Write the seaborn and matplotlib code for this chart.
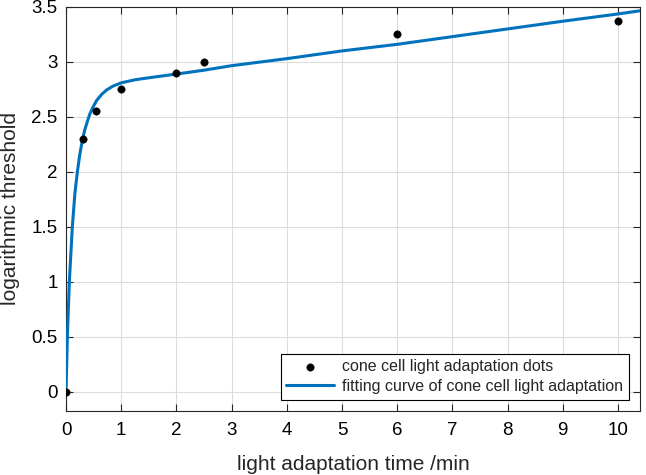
import matplotlib
matplotlib.use("Agg")
import matplotlib.pyplot as plt
import seaborn as sns
import pandas as pd

# measured data points
dot_x = [0, 0.3, 0.55, 1, 2, 2.5, 6, 10]
dot_y = [0, 2.3, 2.55, 2.75, 2.9, 3.0, 3.25, 3.37]

# fitted curve
curve_x = [0, 0.024, 0.06, 0.114, 0.16, 0.205, 0.25, 0.30, 0.344, 0.40, 0.434, 0.50, 0.555,
           0.645, 0.735, 0.85, 1.0, 1.25, 1.5, 2.0, 2.5, 3, 4, 5, 6, 7, 8, 9, 10, 10.4]
curve_y = [0, 0.5, 1.0, 1.5, 1.8, 2.0, 2.16, 2.3, 2.39, 2.48, 2.53, 2.60, 2.65,
           2.705, 2.745, 2.78, 2.81, 2.838, 2.856, 2.89, 2.925, 2.966, 3.03, 3.10, 3.16,
           3.23, 3.30, 3.37, 3.436, 3.465]

x_ticks = list(range(0, 11))
y_ticks = [0, 0.5, 1, 1.5, 2, 2.5, 3, 3.5]
y_tick_labels = ["0", "0.5", "1", "1.5", "2", "2.5", "3", "3.5"]

sns.set_theme(style="whitegrid")
plt.rcParams['font.family'] = ['Liberation Sans', 'DejaVu Sans']

fig = plt.figure(figsize=(6.46, 4.75), dpi=100)
ax = fig.add_axes([0.1022, 0.1354, 0.8885, 0.850])

dots = pd.DataFrame({"x": dot_x, "y": dot_y})
curve = pd.DataFrame({"x": curve_x, "y": curve_y})

sns.lineplot(data=curve, x="x", y="y", ax=ax, color="#0072BD", linewidth=2.2,
             label="fitting curve of cone cell light adaptation", sort=False, zorder=3)
sns.scatterplot(data=dots, x="x", y="y", ax=ax, color="black", s=28, edgecolor="black",
                label="cone cell light adaptation dots", zorder=4)

ax.set_xlim(0, 10.4)
ax.set_ylim(-0.17, 3.5)
ax.set_xticks(x_ticks)
ax.set_yticks(y_ticks)
ax.set_xticklabels([str(t) for t in x_ticks])
ax.set_yticklabels(y_tick_labels)
ax.set_facecolor("white")
ax.grid(True, color="#dcdcdc", linewidth=0.8)
for s in ax.spines.values():
    s.set_visible(True)
    s.set_color("#262626")
    s.set_linewidth(0.8)
ax.tick_params(direction="in", length=5, width=0.8, color="#262626",
               labelsize=13.5, labelcolor="black", top=True, right=True,
               bottom=True, left=True)
ax.tick_params(axis="x", pad=8)
ax.tick_params(axis="y", pad=6)
ax.set_xlabel("light adaptation time /min", fontsize=15, labelpad=12)
ax.set_ylabel("logarithmic threshold", fontsize=15, labelpad=8)

handles, labels = ax.get_legend_handles_labels()
order = [1, 0]
leg = ax.legend([handles[i] for i in order], [labels[i] for i in order],
                loc="lower right", fontsize=11.5, frameon=True, fancybox=False,
                edgecolor="black", framealpha=1, borderaxespad=0.7,
                handlelength=3.0, handletextpad=0.5, labelspacing=0.3,
                borderpad=0.35)
leg.get_frame().set_linewidth(0.8)

fig.savefig("out.png", dpi=100)
